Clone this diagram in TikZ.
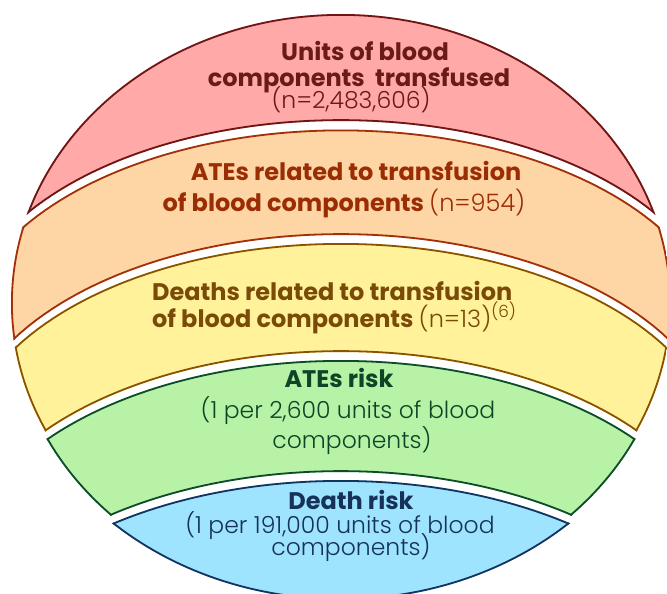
\documentclass[tikz,border=0pt]{standalone}
\usepackage{fontspec}
\setmainfont{Poppins}
\newfontfamily\lightf{Poppins Light}
\definecolor{pinkF}{HTML}{FFA9A9}\definecolor{pinkL}{HTML}{6E1616}\definecolor{pinkT}{HTML}{6B1A1A}
\definecolor{orangeF}{HTML}{FED5A4}\definecolor{orangeL}{HTML}{A3300B}\definecolor{orangeT}{HTML}{9B2D05}
\definecolor{yellowF}{HTML}{FFF29A}\definecolor{yellowL}{HTML}{8A5300}\definecolor{yellowT}{HTML}{7A4A08}
\definecolor{greenF}{HTML}{B8F2A7}\definecolor{greenL}{HTML}{0D4B2B}\definecolor{greenT}{HTML}{0E4527}
\definecolor{blueF}{HTML}{9EE4FF}\definecolor{blueL}{HTML}{14345F}\definecolor{blueT}{HTML}{16325A}
\newcommand{\lt}{\mdseries\lightf}
\tikzset{
  hd/.style={inner sep=0pt, anchor=base, font=\fontsize{24}{28}\selectfont\bfseries},
  tx/.style={inner sep=0pt, anchor=base, font=\fontsize{23.5}{28}\selectfont\lightf},
  edge/.style={line width=3.6pt}
}
\begin{document}
\begin{tikzpicture}[x=1pt,y=-1pt,line join=round]
\useasboundingbox (0,0) rectangle (667,594);
% pink band
\begin{scope}
\clip (341,303) ellipse [x radius=330pt, y radius=289pt];
\clip (-40,-40) -- (720,-40) -- plot[domain=360:-360,samples=91] ({341+\x},{121+214-214*sqrt(1-(\x/380)^2)}) -- cycle;
\fill[pinkF] (-40,-40) rectangle (720,650);
\draw[edge,pinkL] (341,303) ellipse [x radius=330pt, y radius=289pt];
\draw[edge,pinkL] (-40,-40) -- (720,-40) -- plot[domain=360:-360,samples=91] ({341+\x},{121+214-214*sqrt(1-(\x/380)^2)}) -- cycle;
\end{scope}
% orange band
\begin{scope}
\clip (341,303) ellipse [x radius=330pt, y radius=289pt];
\clip plot[domain=-360:360,samples=91] ({341+\x},{129.5+214-214*sqrt(1-(\x/380)^2)}) -- plot[domain=360:-360,samples=91] ({341+\x},{235+214-214*sqrt(1-(\x/380)^2)}) -- cycle;
\fill[orangeF] (-40,-40) rectangle (720,650);
\draw[edge,orangeL] (341,303) ellipse [x radius=330pt, y radius=289pt];
\draw[edge,orangeL] plot[domain=-360:360,samples=91] ({341+\x},{129.5+214-214*sqrt(1-(\x/380)^2)}) -- plot[domain=360:-360,samples=91] ({341+\x},{235+214-214*sqrt(1-(\x/380)^2)}) -- cycle;
\end{scope}
% yellow band
\begin{scope}
\clip (341,303) ellipse [x radius=330pt, y radius=289pt];
\clip plot[domain=-360:360,samples=91] ({341+\x},{243+214-214*sqrt(1-(\x/380)^2)}) -- plot[domain=360:-360,samples=91] ({341+\x},{352+214-214*sqrt(1-(\x/380)^2)}) -- cycle;
\fill[yellowF] (-40,-40) rectangle (720,650);
\draw[edge,yellowL] (341,303) ellipse [x radius=330pt, y radius=289pt];
\draw[edge,yellowL] plot[domain=-360:360,samples=91] ({341+\x},{243+214-214*sqrt(1-(\x/380)^2)}) -- plot[domain=360:-360,samples=91] ({341+\x},{352+214-214*sqrt(1-(\x/380)^2)}) -- cycle;
\end{scope}
% green band
\begin{scope}
\clip (341,308) ellipse [x radius=330pt, y radius=290pt];
\clip plot[domain=-360:360,samples=91] ({341+\x},{360+214-214*sqrt(1-(\x/380)^2)}) -- plot[domain=360:-360,samples=91] ({341+\x},{472+214-214*sqrt(1-(\x/380)^2)}) -- cycle;
\fill[greenF] (-40,-40) rectangle (720,650);
\draw[edge,greenL] (341,308) ellipse [x radius=330pt, y radius=290pt];
\draw[edge,greenL] plot[domain=-360:360,samples=91] ({341+\x},{360+214-214*sqrt(1-(\x/380)^2)}) -- plot[domain=360:-360,samples=91] ({341+\x},{472+214-214*sqrt(1-(\x/380)^2)}) -- cycle;
\end{scope}
% blue band
\begin{scope}
\clip (341,310) ellipse [x radius=338pt, y radius=290pt];
\clip plot[domain=-360:360,samples=91] ({341+\x},{480+214-214*sqrt(1-(\x/380)^2)}) -- (720,660) -- (-40,660) -- cycle;
\fill[blueF] (-40,-40) rectangle (720,660);
\draw[edge,blueL] (341,310) ellipse [x radius=338pt, y radius=290pt];
\draw[edge,blueL] plot[domain=-360:360,samples=91] ({341+\x},{480+214-214*sqrt(1-(\x/380)^2)}) -- (720,660) -- (-40,660) -- cycle;
\end{scope}
% texts
\node[hd,pinkT] (p1) at (365,61) {Units of blood};
\node[hd,pinkT] (p2) at (359,86) {components\ \ transfused};
\node[tx,pinkT] (p3) at (351,108) {(n=2,483,606)};
\node[hd,orangeT] (o1) at (356,180) {ATEs related to transfusion};
\node[hd,orangeT] (o2) at (344,211) {of blood components {\lt (n=954)}};
\node[hd,yellowT,anchor=base west] (y1) at (152,300) {Deaths related to transfusion};
\node[hd,yellowT,anchor=base west] (y2) at (152,327) {of blood components {\lt (n=13)\textsuperscript{(6)}}};
\node[hd,greenT] (g1) at (339,387) {ATEs risk};
\node[tx,greenT] (g2) at (348,418) {(1 per 2,600 units of blood};
\node[tx,greenT] (g3) at (352,448) {components)};
\node[hd,blueT] (b1) at (351,509) {Death risk};
\node[tx,blueT] (b2) at (340,533) {(1 per 191,000 units of blood};
\node[tx,blueT] (b3) at (351,555) {components)};
\end{tikzpicture}
\end{document}
